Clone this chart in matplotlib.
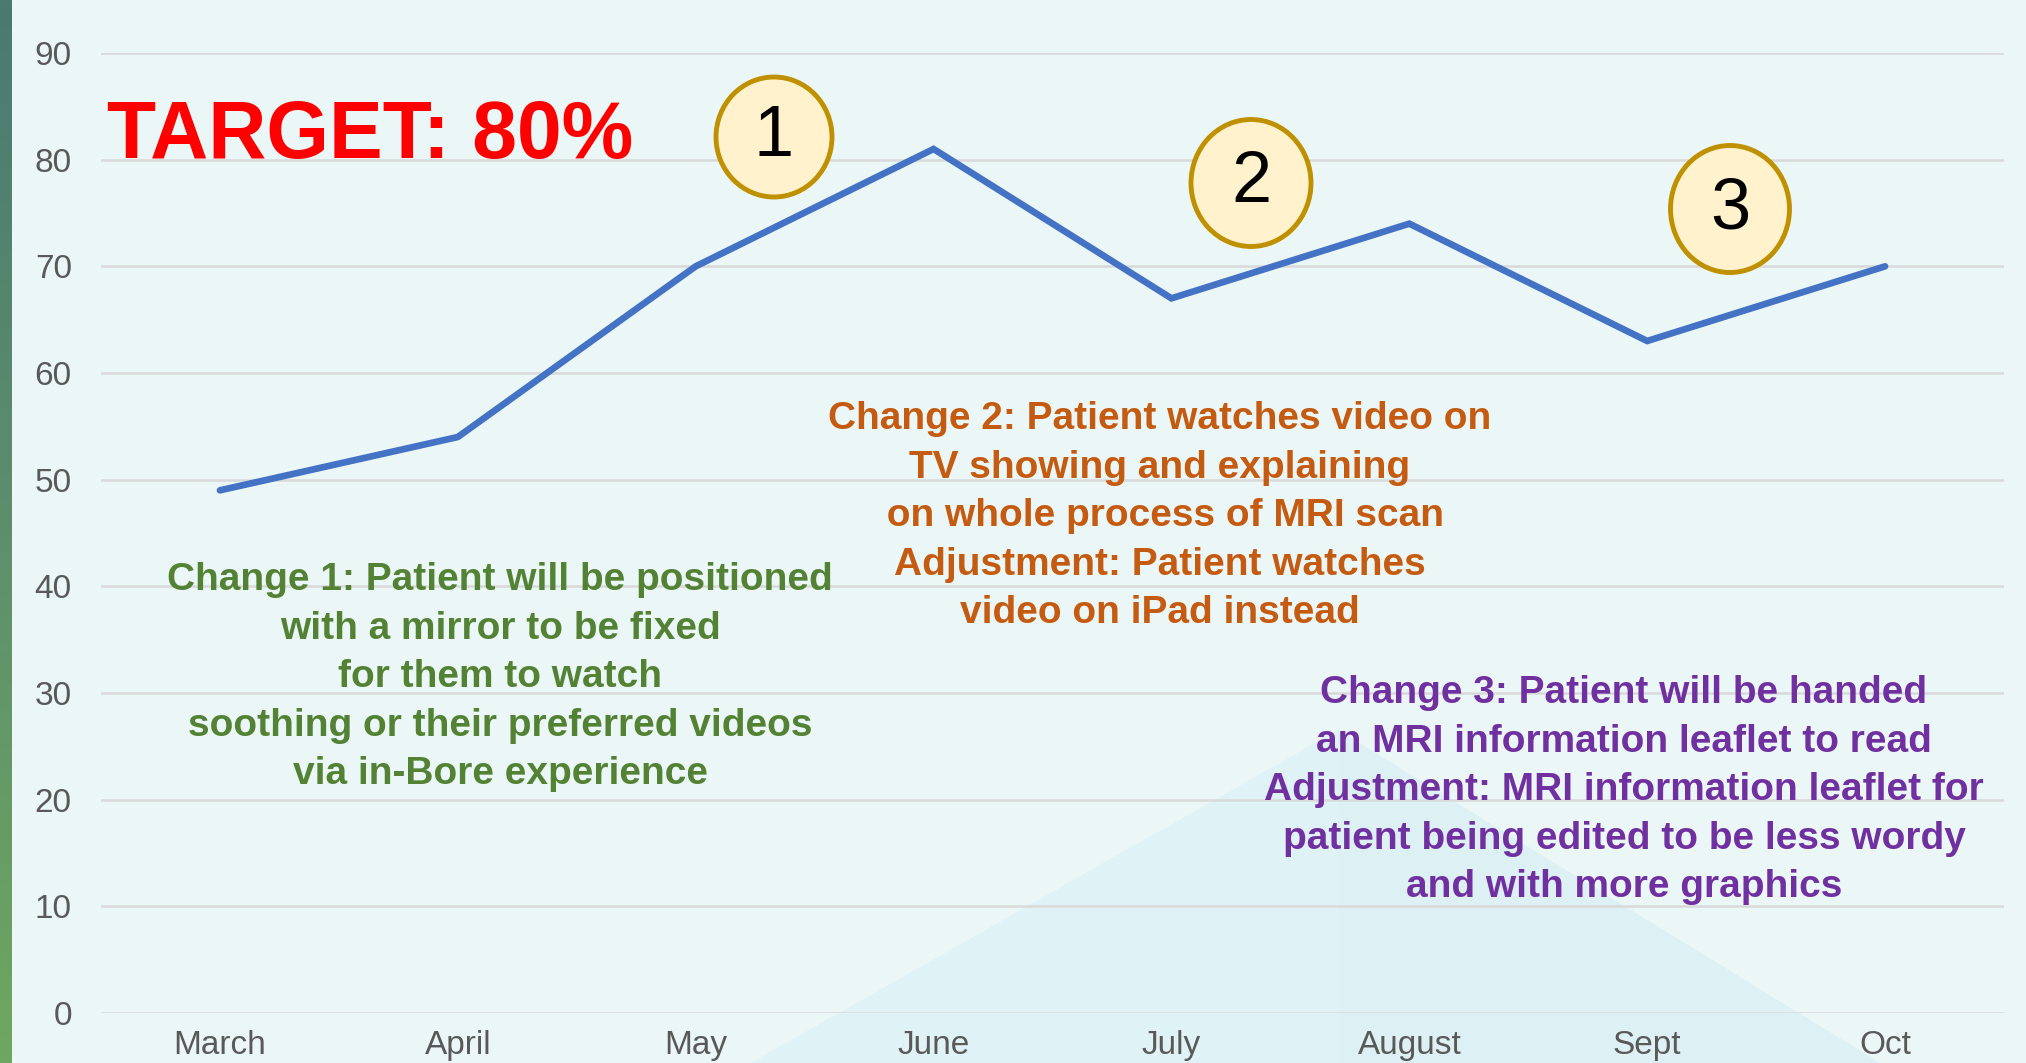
import matplotlib
matplotlib.use("Agg")
import matplotlib.pyplot as plt
import numpy as np
from matplotlib.patches import Ellipse, Polygon
from matplotlib.colors import LinearSegmentedColormap

# ---- data ----
months = ["March", "April", "May", "June", "July", "August", "Sept", "Oct"]
values = [49, 54, 70, 81, 67, 74, 63, 70]
yticks = [0, 10, 20, 30, 40, 50, 60, 70, 80, 90]

target_text = "TARGET: 80%"
change1 = ["Change 1: Patient will be positioned",
           "with a mirror to be fixed",
           "for them to watch",
           "soothing or their preferred videos",
           "via in-Bore experience"]
change2 = ["Change 2: Patient watches video on",
           "TV showing and explaining",
           " on whole process of MRI scan",
           "Adjustment: Patient watches",
           "video on iPad instead"]
change3 = ["Change 3: Patient will be handed",
           "an MRI information leaflet to read",
           "Adjustment: MRI information leaflet for",
           "patient being edited to be less wordy",
           "and with more graphics"]
markers = ["1", "2", "3"]

# ---- styling ----
W, H = 2026, 1063
plt.rcParams['font.family'] = ['Liberation Sans', 'DejaVu Sans']
BG = "#ebf7f7"

fig = plt.figure(figsize=(W / 100, H / 100), dpi=100, facecolor=BG)

def fx(px):
    return px / W

def fy(py):
    return 1 - py / H

# background triangle
tri_l = Polygon([(fx(751), fy(1063)), (fx(1338), fy(730)), (fx(1338), fy(1063))],
                closed=True, transform=fig.transFigure, facecolor="#dff2f5",
                edgecolor="none", zorder=-2)
tri_r = Polygon([(fx(1338), fy(1063)), (fx(1338), fy(730)), (fx(1880), fy(1063))],
                closed=True, transform=fig.transFigure, facecolor="#ddf0f3",
                edgecolor="none", zorder=-2)
fig.patches.extend([tri_l, tri_r])

# left gradient bar
bar_ax = fig.add_axes([0, 0, 11 / W, 1])
grad = np.linspace(0, 1, 256).reshape(-1, 1)
cmap = LinearSegmentedColormap.from_list("bar", ["#4a7a70", "#5d8f6c", "#6ea75f"])
bar_ax.imshow(grad, aspect="auto", cmap=cmap, extent=[0, 1, 1, 0])
bar_ax.axis("off")

# main axes
ax = fig.add_axes([fx(101), fy(1013), fx(2004) - fx(101), fy(53) - fy(1013)])
ax.set_zorder(1)
ax.patch.set_visible(False)
x = np.arange(len(months))
ax.set_xlim(-0.5, len(months) - 0.5)
ax.set_ylim(0, 90)
ax.set_yticks(yticks)
ax.set_yticklabels([str(t) for t in yticks])
ax.set_xticks(x)
ax.set_xticklabels(months)
ax.tick_params(axis="both", length=0, labelsize=24, labelcolor="#595959")
ax.tick_params(axis="y", pad=21)
ax.tick_params(axis="x", pad=12)
for s in ax.spines.values():
    s.set_visible(False)
ax.grid(axis="y", color="#d9d9d9", linewidth=1.8)
ax.set_axisbelow(True)

ax.plot(x, values, color="#4472c4", linewidth=4.8, solid_joinstyle="miter",
        solid_capstyle="round", zorder=3, clip_on=False)

# numbered circles (positions in pixels)
circ = [(774, 137, 116, 120), (1251, 183, 120, 127), (1730, 209, 119, 127)]
for (cx, cy, cw, ch), lab in zip(circ, markers):
    e = Ellipse((fx(cx), fy(cy)), cw / W, ch / H, transform=fig.transFigure,
                facecolor="#fff2cc", edgecolor="#bf9000", linewidth=3.5, zorder=4)
    fig.patches.append(e)
    fig.text(fx(cx), fy(cy + 1), lab, ha="center", va="center", fontsize=52,
             color="black", zorder=5)

# target text
fig.text(fx(107), fy(158), target_text, ha="left", va="baseline", fontsize=58,
         fontweight="bold", color="#ff0000", zorder=5)

def block(lines, cx, base, color, step=48.6):
    for i, line in enumerate(lines):
        fig.text(fx(cx), fy(base + i * step), line, ha="center", va="baseline",
                 fontsize=28, fontweight="bold", color=color, zorder=5)

block(change1, 500, 590, "#548235")
block(change2, 1160, 429, "#c55a11")
block(change3, 1624, 703, "#7030a0")

fig.savefig("out.png", dpi=100, facecolor=BG)
